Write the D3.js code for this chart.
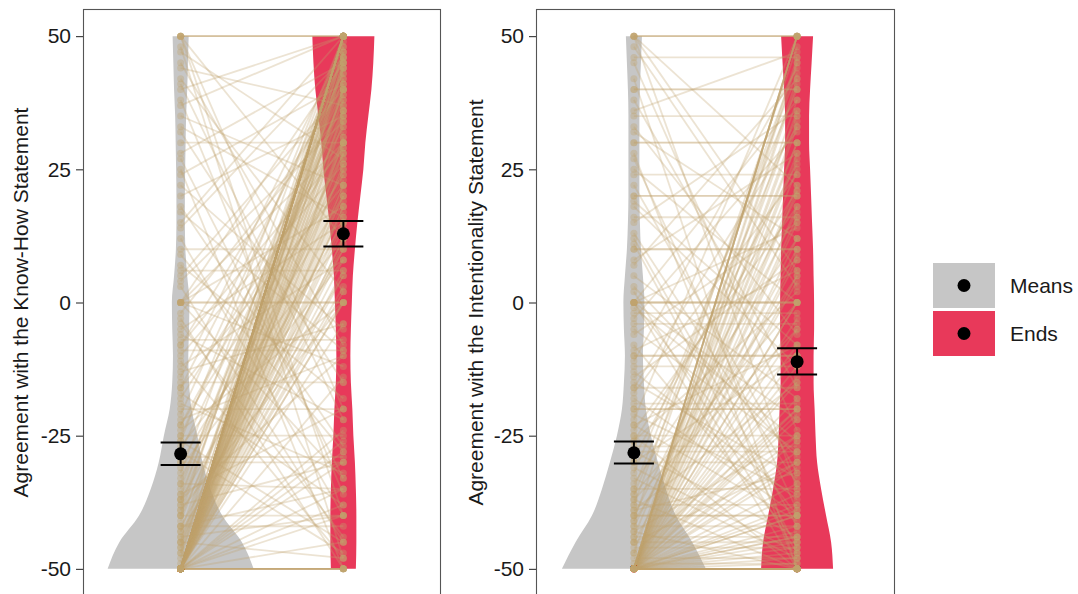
<!DOCTYPE html>
<html>
<head>
<meta charset="utf-8">
<script src="https://cdn.jsdelivr.net/npm/d3@7"></script>
<style>
  body { margin: 0; background: #ffffff; }
  svg { display: block; font-family: "Liberation Sans", Arial, Helvetica, sans-serif; }
</style>
</head>
<body>
<svg id="chart" width="1078" height="594"></svg>
<script>
// ---------- data ----------
const categories = ["Means", "Ends"];
const yTicks = [-50, -25, 0, 25, 50];
const panelTitles = ["Agreement with the Know-How Statement", "Agreement with the Intentionality Statement"];

// Know-How panel: paired ratings (Means condition, Ends condition)
const knowMeans = [
  -50,-50,-50,-50,-50,-50,-50,-50,-50,-50,-50,-50,-50,-50,
  -50,-50,-50,-50,-50,-50,-50,-50,-50,-50,-50,-50,-50,-50,-50,-50,-50,-50,-50,-50,-50,-50,-50,-50,-50,-50,
  -50,-50,-50,-50,-50,-50,-50,-50,-50,
  -50,-50,-50,-50,-50,-50,-50,-50,-50,
  -50,-50,-50,-50,-50,-50,-50,
  -48,-47,-46,-45,-45,-44,-43,-42,-42,-41,-40,-40,-40,-39,-38,-38,-37,-37,-36,-36,-45,-43,
  -35,-34,-33,-32,-30,-30,-29,-28,-27,-26,-25,-25,-24,-23,-22,-21,-20,
  -18,-17,-16,-15,-14,-12,-11,-10,-9,-8,-6,-5,-3,-2,
  0,0,0,0,0,0,0,
  3,5,7,10,12,15,18,20,22,25,28,30,32,35,38,40,42,45,47,
  50,50,50,50,50,50,
  -50,-50,-50,-50,-50,-50,-50,-50,-50,-50,-50,-50,-50,-50,-50,
  -50,-50,-50,-50,-50,-50,-50,-50,-50,-50,-50,-50,-50,-50,-50,
  -49,-47,-46,-44,-42,-39,-37,-34,-31,-28,-26,-23,-19,-16,-13,
  -8,-4,4,9,14,17,24,27,33,37,41,44,48,6,-7
];
const knowEnds = [
  50,50,50,50,50,50,50,50,50,50,50,50,50,50,
  48,46,45,44,42,40,40,38,37,35,34,33,32,30,30,28,27,25,24,22,20,18,16,15,12,10,
  8,5,3,0,0,12,26,31,18,
  22,36,44,-24,-28,-30,-35,-40,-45,
  40,47,-50,-50,-50,-50,-50,
  50,45,30,50,20,-40,40,10,-42,35,50,-40,25,0,42,-30,15,47,-20,38,-48,5,
  44,-35,28,50,-30,20,-29,36,12,-45,40,-25,0,33,-10,46,-20,
  30,-38,22,-15,48,8,-48,26,-9,41,-22,15,-50,36,
  0,0,30,-12,45,-33,18,
  -45,40,-18,10,-40,50,-27,35,-5,-50,45,30,-15,22,-36,50,2,-8,27,
  50,50,50,-40,12,-20,
  50,50,50,50,50,50,49,47,45,43,41,39,36,34,31,
  29,26,23,21,19,14,11,6,2,-4,-14,-26,-38,-50,-50,
  44,28,50,17,-35,46,-10,39,8,-47,50,24,-32,43,-4,
  29,-44,34,-28,46,-9,41,-33,16,50,-22,37,-48,6,-7
];

// Intentionality panel: paired ratings (Means condition, Ends condition)
const intMeans = [
  -50,-50,-50,-50,-50,-50,-50,-50,-50,-50,-50,-50,-50,-50,-50,-50,-50,-50,-50,-50,-50,-50,-50,-50,
  -50,-50,-50,-50,-50,-50,-50,-50,
  -50,-50,-50,-50,-50,-50,
  -50,-50,-50,-50,-50,
  -50,-50,
  -50,-50,-50,-50,-50,
  -50,-50,-50,-50,-50,
  -50,-50,-50,
  -50,-50,-50,-50,
  -48,-47,-46,-45,-45,-44,-43,-42,-41,-40,-40,-40,-39,-38,-38,-37,-37,-36,-36,-45,-43,-41,
  -35,-34,-33,-32,-30,-30,-29,-28,-27,-26,-25,-25,-24,-23,-22,-21,-20,-20,
  -18,-17,-16,-15,-14,-12,-11,-10,-10,-8,-6,-5,-3,-2,
  0,0,0,0,0,0,0,0,
  2,5,8,10,10,12,15,18,20,20,22,25,28,30,30,33,36,40,40,45,
  50,50,50,50,50,50,
  -50,-50,-50,-50,-50,-50,-50,-50,-50,-50,-50,-50,-50,-50,-50,
  -50,-50,-50,-50,-50,-50,-50,-50,-50,-50,-50,-50,-50,-50,-50,
  -49,-47,-44,-42,-39,-35,-31,-28,-26,-23,-19,-16,-13,-9,-4,
  3,7,11,16,19,24,27,32,35,38,42,46,48,-1,13
];
const intEnds = [
  -50,-50,-50,-50,-50,-50,-50,-50,-50,-50,-50,-50,-50,-50,-50,-50,-50,-50,-50,-50,-50,-50,-50,-50,
  -48,-46,-45,-44,-42,-40,-40,-38,
  -34,-30,-28,-25,-22,-20,
  -18,-15,-12,-10,-5,
  0,0,
  5,8,12,15,18,
  22,25,28,30,33,
  38,42,45,
  50,50,50,50,
  -48,-20,-46,10,-45,30,-50,-42,5,-40,-40,20,-15,45,-38,-5,-50,0,35,-30,-25,48,
  -35,12,-48,40,-30,-10,26,-44,-27,2,-25,-50,18,-8,50,-36,-20,-20,
  -40,24,-16,-33,8,-12,44,-10,-10,-45,15,-28,32,-2,
  0,0,0,-22,-50,14,38,-40,
  -47,-18,28,10,10,-42,36,-12,20,20,-32,0,-50,30,30,-6,47,40,40,-24,
  50,50,50,-35,22,6,
  -50,-50,-50,-50,-50,-50,-50,-50,-49,-47,-43,-39,-36,-31,-26,
  -21,-14,-8,-3,4,9,16,21,27,34,41,46,50,50,-44,
  -49,36,-44,17,-32,43,-47,-28,21,-41,-19,33,-37,6,-4,
  -29,42,-46,16,-8,24,-39,12,35,-16,-50,46,3,-26,-34
];

// Condition means with error-bar limits [Means, Ends]
const knowSummaryMean = [-28.4, 12.9];
const knowSummaryLow  = [-30.5, 10.5];
const knowSummaryHigh = [-26.3, 15.3];
const intSummaryMean  = [-28.2, -11.1];
const intSummaryLow   = [-30.2, -13.5];
const intSummaryHigh  = [-26.1, -8.6];

// Violin densities (percent of the widest violin) at these rating levels
const densityLevels = [50,45,40,35,30,25,20,15,10,5,0,-5,-10,-15,-20,-25,-30,-35,-40,-45,-50];
const knowMeansDensity = [11,10,9,7.5,6.8,6.2,5.8,5.8,6.5,9,12,11.5,10.5,11.5,15,23,30,41,57,84,100];
const knowEndsDensity  = [42.5,41,38.4,34.2,30.1,27.4,23.3,19.2,15.8,13,11.6,10.3,9.6,10.3,12.3,13.7,15.8,17.1,17.8,17.8,17.1];
const intMeansDensity  = [11,9.6,8.2,7.5,7.5,7.5,7.5,8.2,9.6,12.3,14.4,13.7,12.3,13.7,16.4,23.3,32.9,43.8,57.5,80,98.6];
const intEndsDensity   = [21.9,19.9,17.8,16.4,16.4,17.8,19.2,20.5,21.9,22.6,23.3,23.3,22.6,22.6,24,25.3,27.4,32.9,39.7,46.6,49.3];

// ---------- drawing ----------
const svg = d3.select("#chart");
const fillColor = d3.scaleOrdinal().domain(categories).range(["#C6C6C6", "#E8395A"]);
const tan = "#BFA26C";

const y = d3.scaleLinear().domain([-55, 55]).range([595.5, 9.5]);
const widthScale = d3.scaleLinear().domain([0, 100]).range([0, 73]);

const panels = [
  { left: 83, right: 441, means: knowMeans, ends: knowEnds,
    dens: [knowMeansDensity, knowEndsDensity],
    sMean: knowSummaryMean, sLow: knowSummaryLow, sHigh: knowSummaryHigh,
    title: panelTitles[0], titleX: 28 },
  { left: 536, right: 895, means: intMeans, ends: intEnds,
    dens: [intMeansDensity, intEndsDensity],
    sMean: intSummaryMean, sLow: intSummaryLow, sHigh: intSummaryHigh,
    title: panelTitles[1], titleX: 483 }
];

panels.forEach(p => {
  const x = d3.scalePoint().domain(categories).range([p.left, p.right]).padding(0.6);
  const g = svg.append("g");

  // violins
  categories.forEach((c, i) => {
    const pts = densityLevels.map((v, k) => ({ v: v, d: p.dens[i][k] }));
    const area = d3.area()
      .y(d => y(d.v))
      .x0(d => x(c) - widthScale(d.d))
      .x1(d => x(c) + widthScale(d.d))
      .curve(d3.curveMonotoneY);
    g.append("path").attr("d", area(pts)).attr("fill", fillColor(c));
  });

  // paired lines
  const pairs = p.means.map((m, k) => ({ m: m, e: p.ends[k] }));
  g.append("g").selectAll("line").data(pairs).join("line")
    .attr("x1", x("Means")).attr("y1", d => y(d.m))
    .attr("x2", x("Ends")).attr("y2", d => y(d.e))
    .attr("stroke", tan).attr("stroke-opacity", 0.3).attr("stroke-width", 1.8);

  // points
  const pg = g.append("g");
  pg.selectAll("circle.m").data(pairs).join("circle").attr("class", "m")
    .attr("cx", x("Means")).attr("cy", d => y(d.m)).attr("r", 3.5)
    .attr("fill", tan).attr("fill-opacity", 0.35);
  pg.selectAll("circle.e").data(pairs).join("circle").attr("class", "e")
    .attr("cx", x("Ends")).attr("cy", d => y(d.e)).attr("r", 3.5)
    .attr("fill", tan).attr("fill-opacity", 0.35);

  // summary means with error bars
  categories.forEach((c, i) => {
    const cx = x(c);
    g.append("line").attr("x1", cx).attr("x2", cx)
      .attr("y1", y(p.sLow[i])).attr("y2", y(p.sHigh[i]))
      .attr("stroke", "#000").attr("stroke-width", 2);
    [p.sLow[i], p.sHigh[i]].forEach(v => {
      g.append("line").attr("x1", cx - 20).attr("x2", cx + 20)
        .attr("y1", y(v)).attr("y2", y(v))
        .attr("stroke", "#000").attr("stroke-width", 2);
    });
    g.append("circle").attr("cx", cx).attr("cy", y(p.sMean[i])).attr("r", 6.5).attr("fill", "#000");
  });

  // panel border
  svg.append("rect")
    .attr("x", p.left + 0.5).attr("y", 9.5)
    .attr("width", p.right - p.left - 1).attr("height", 586)
    .attr("fill", "none").attr("stroke", "#555").attr("stroke-width", 1.1);

  // y axis
  const axis = d3.axisLeft(y).tickValues(yTicks).tickFormat(d => String(d)).tickSize(7).tickPadding(5);
  const ag = svg.append("g").attr("transform", `translate(${p.left},0)`).call(axis);
  ag.select(".domain").remove();
  ag.selectAll(".tick line").attr("stroke", "#333").attr("stroke-width", 1.1);
  ag.selectAll(".tick text").attr("font-size", 21).attr("fill", "#1a1a1a")
    .attr("font-family", "'Liberation Sans', Arial, sans-serif");

  // axis title
  svg.append("text")
    .attr("transform", `translate(${p.titleX},${y(0)}) rotate(-90)`)
    .attr("text-anchor", "middle")
    .attr("font-size", 21).attr("fill", "#1a1a1a")
    .text(p.title);
});

// legend
const legend = svg.append("g").attr("transform", "translate(933,263)");
categories.forEach((c, i) => {
  const row = legend.append("g").attr("transform", `translate(0,${i * 48})`);
  row.append("rect").attr("width", 62).attr("height", 45).attr("fill", fillColor(c));
  row.append("circle").attr("cx", 31).attr("cy", 22.5).attr("r", 6.5).attr("fill", "#000");
  row.append("text").attr("x", 77).attr("y", 22.5).attr("dy", "0.35em")
    .attr("font-size", 21).attr("fill", "#1a1a1a").text(c);
});
</script>
</body>
</html>
